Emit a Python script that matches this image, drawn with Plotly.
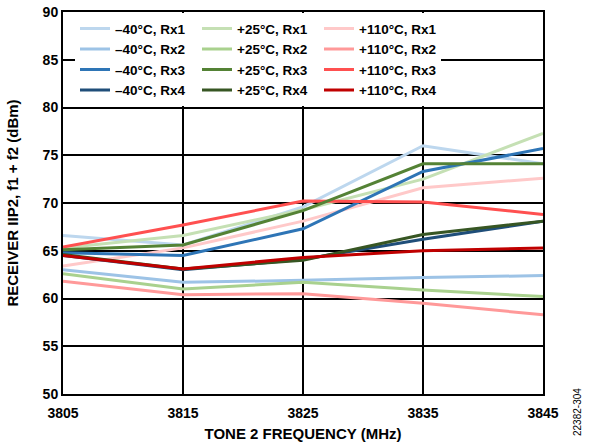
import plotly.graph_objects as go

freq = [3805, 3815, 3825, 3835, 3845]

m40_rx1 = [66.6, 65.6, 69.6, 76.0, 74.1]
m40_rx2 = [63.0, 61.7, 61.9, 62.2, 62.4]
m40_rx3 = [64.8, 64.5, 67.3, 73.3, 75.7]
m40_rx4 = [64.5, 63.0, 64.1, 66.2, 68.1]
p25_rx1 = [65.3, 66.6, 69.3, 72.5, 77.3]
p25_rx2 = [62.6, 61.0, 61.7, 60.9, 60.2]
p25_rx3 = [65.1, 65.6, 69.2, 74.1, 74.1]
p25_rx4 = [64.6, 63.1, 64.0, 66.7, 68.1]
p110_rx1 = [63.4, 65.3, 68.1, 71.6, 72.6]
p110_rx2 = [61.8, 60.4, 60.5, 59.5, 58.3]
p110_rx3 = [65.4, 67.7, 70.2, 70.1, 68.8]
p110_rx4 = [64.5, 63.1, 64.3, 65.0, 65.3]

series = [
    ("\u201340°C, Rx1", m40_rx1, "#bdd7ee"),
    ("+25°C, Rx1", p25_rx1, "#c5e0b4"),
    ("+110°C, Rx1", p110_rx1, "#ffc9c9"),
    ("\u201340°C, Rx2", m40_rx2, "#9dc3e6"),
    ("+25°C, Rx2", p25_rx2, "#a9d18e"),
    ("+110°C, Rx2", p110_rx2, "#ff9999"),
    ("\u201340°C, Rx3", m40_rx3, "#2e75b6"),
    ("+25°C, Rx3", p25_rx3, "#548235"),
    ("+110°C, Rx3", p110_rx3, "#ff5050"),
    ("\u201340°C, Rx4", m40_rx4, "#1f4e79"),
    ("+25°C, Rx4", p25_rx4, "#375623"),
    ("+110°C, Rx4", p110_rx4, "#c00000"),
]

draw_order = [0, 3, 1, 4, 2, 5, 6, 8, 7, 9, 10, 11]

fig = go.Figure()
for i in draw_order:
    name, vals, col = series[i]
    fig.add_trace(go.Scatter(
        x=freq, y=vals, mode="lines", name=name,
        line=dict(color=col, width=3),
        legendrank=i + 1,
    ))

font_family = "Liberation Sans, Arial, sans-serif"

fig.update_layout(
    width=589, height=447,
    margin=dict(l=63, r=46, t=12, b=53),
    plot_bgcolor="white", paper_bgcolor="white",
    font=dict(family=font_family, color="black"),
    showlegend=True,
    legend=dict(
        orientation="h", x=0.025, y=0.997, xanchor="left", yanchor="top",
        bgcolor="white", borderwidth=0,
        font=dict(size=13.5, family=font_family, color="black", weight="bold"),
        entrywidth=77, entrywidthmode="pixels",
        itemwidth=30, traceorder="normal",
    ),
    xaxis=dict(
        range=[3805, 3845], tickvals=freq, ticktext=[str(f) for f in freq],
        showgrid=True, gridcolor="black", gridwidth=1.5,
        showline=True, linecolor="black", linewidth=2, mirror=True,
        ticks="", zeroline=False, automargin=False, ticklabelstandoff=5,
        tickfont=dict(size=14, family=font_family, weight="bold"),
        title=dict(text="TONE 2 FREQUENCY (MHz)", standoff=9,
                   font=dict(size=15, family=font_family, weight="bold")),
    ),
    yaxis=dict(
        range=[50, 90], dtick=5,
        showgrid=True, gridcolor="black", gridwidth=1.5,
        showline=True, linecolor="black", linewidth=2, mirror=True,
        ticks="", zeroline=False, automargin=False,
        tickfont=dict(size=14, family=font_family, weight="bold"),
        title=dict(text="RECEIVER IIP2, f1 + f2 (dBm)", standoff=20,
                   font=dict(size=15, family=font_family, weight="bold")),
    ),
    annotations=[dict(
        text="22382-304", xref="paper", yref="paper",
        x=(577 - 63) / 480, y=(394 - 412) / 382,
        xanchor="center", yanchor="middle",
        showarrow=False, textangle=-90, font=dict(size=10, family=font_family),
    )],
)

fig.write_html(
    "out.html",
    config={"displayModeBar": False},
    post_script="document.body.style.margin='0';document.body.style.overflow='hidden';",
)
